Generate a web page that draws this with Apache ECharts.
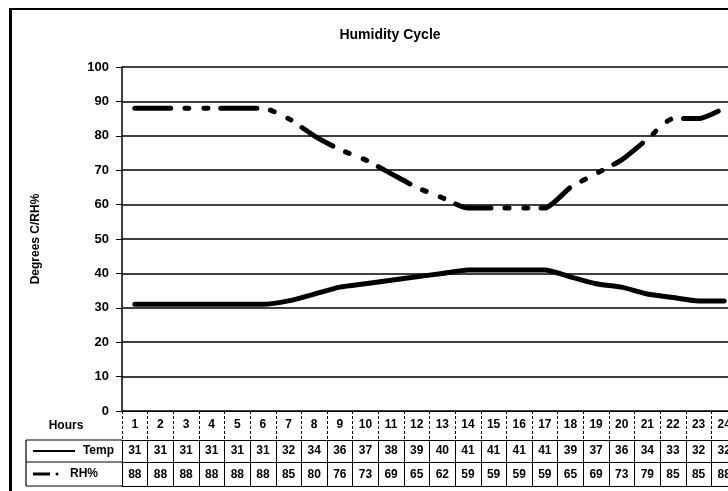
<!DOCTYPE html>
<html>
<head>
<meta charset="utf-8">
<style>
  html, body { margin: 0; padding: 0; background: #fff; }
  #chart { width: 728px; height: 491px; }
</style>
<script src="https://cdn.jsdelivr.net/npm/echarts@6/dist/echarts.min.js"></script>
</head>
<body>
<div id="chart"></div>
<script>
// Hourly readings over one day
const hours = ['1','2','3','4','5','6','7','8','9','10','11','12','13','14','15','16','17','18','19','20','21','22','23','24'];
const temp  = [31,31,31,31,31,31,32,34,36,37,38,39,40,41,41,41,41,39,37,36,34,33,32,32];
const rh    = [88,88,88,88,88,88,85,80,76,73,69,65,62,59,59,59,59,65,69,73,79,85,85,88];
const yTicks = { min: 0, max: 100, step: 10 };

const FONT = '"Liberation Sans", Arial, sans-serif';
const INK = '#000';

const chart = echarts.init(document.getElementById('chart'), null, { renderer: 'canvas' });

// One category axis per table row, stacked under the plot with offsets
function tableAxis(offset, tickLen, margin, values, showLabels, dashedTicks) {
  return {
    type: 'category',
    data: hours,
    position: 'bottom',
    offset: offset,
    boundaryGap: true,
    axisLine: { show: true, lineStyle: { color: INK, width: 1.2 } },
    axisTick: {
      show: tickLen > 0, length: tickLen, interval: 0,
      lineStyle: { color: INK, width: 1, type: dashedTicks ? [3, 2] : 'solid' }
    },
    axisLabel: {
      show: showLabels, interval: 0, margin: margin,
      color: INK, fontFamily: FONT, fontWeight: 'bold', fontSize: 12,
      formatter: (v, i) => values ? String(values[i]) : v
    },
    splitLine: { show: false }
  };
}

const option = {
  animation: false,
  backgroundColor: '#fff',
  title: {
    text: 'Humidity Cycle',
    left: 385, top: 23, textAlign: 'center',
    textStyle: { fontFamily: FONT, fontWeight: 'bold', fontSize: 14, color: INK }
  },
  grid: { left: 122, top: 67, width: 615, height: 344, containLabel: false, outerBoundsMode: 'none' },
  xAxis: [
    tableAxis(0, 29, 8, null, true, true),
    tableAxis(29, 22, 5, temp, true, false),
    tableAxis(51, 24, 7, rh, true, false),
    tableAxis(75, 0, 0, null, false, false)
  ],
  yAxis: {
    type: 'value',
    min: yTicks.min, max: yTicks.max, interval: yTicks.step,
    name: 'Degrees C/RH%',
    nameLocation: 'middle',
    nameRotate: 90,
    nameGap: 80,
    nameTextStyle: { fontFamily: FONT, fontWeight: 'bold', fontSize: 12, color: INK },
    axisLine: { show: true, lineStyle: { color: INK, width: 1.5 } },
    axisTick: { show: true, length: 6, lineStyle: { color: INK, width: 1 } },
    axisLabel: { margin: 13, color: INK, fontFamily: FONT, fontWeight: 'bold', fontSize: 13 },
    splitLine: { show: true, lineStyle: { color: INK, width: 1.5 } }
  },
  series: [
    {
      name: 'Temp', type: 'line', xAxisIndex: 0, data: temp,
      showSymbol: false, smooth: 0.2,
      lineStyle: { color: INK, width: 5, cap: 'round' }
    },
    {
      name: 'RH%', type: 'line', xAxisIndex: 0, data: rh,
      showSymbol: false, smooth: 0.2,
      lineStyle: { color: INK, width: 5, cap: 'round', type: [36, 14, 4, 15, 4, 13] }
    }
  ],
  graphic: [
    // outer frame
    { type: 'line', shape: { x1: 10.5, y1: 8, x2: 10.5, y2: 491 }, style: { stroke: INK, lineWidth: 3 } },
    { type: 'line', shape: { x1: 10, y1: 9, x2: 728, y2: 9 }, style: { stroke: INK, lineWidth: 2 } },
    // row header cells of the data table
    { type: 'line', shape: { x1: 26, y1: 440, x2: 122, y2: 440 }, style: { stroke: INK, lineWidth: 1.2 } },
    { type: 'line', shape: { x1: 26, y1: 462, x2: 122, y2: 462 }, style: { stroke: INK, lineWidth: 1.2 } },
    { type: 'line', shape: { x1: 26, y1: 486, x2: 122, y2: 486 }, style: { stroke: INK, lineWidth: 1.2 } },
    { type: 'line', shape: { x1: 26, y1: 440, x2: 26, y2: 486 }, style: { stroke: INK, lineWidth: 1.2 } },
    { type: 'text', x: 66, y: 426, style: { text: 'Hours', fill: INK, font: 'bold 12px ' + FONT, textAlign: 'center', textVerticalAlign: 'middle' } },
    // Temp key
    { type: 'line', shape: { x1: 33, y1: 451, x2: 75, y2: 451 }, style: { stroke: INK, lineWidth: 2 } },
    { type: 'text', x: 114, y: 451, style: { text: 'Temp', fill: INK, font: 'bold 12px ' + FONT, textAlign: 'right', textVerticalAlign: 'middle' } },
    // RH% key
    { type: 'line', shape: { x1: 33, y1: 474, x2: 50, y2: 474 }, style: { stroke: INK, lineWidth: 3 } },
    { type: 'circle', shape: { cx: 57, cy: 474, r: 1.5 }, style: { fill: INK } },
    { type: 'text', x: 98, y: 474, style: { text: 'RH%', fill: INK, font: 'bold 12px ' + FONT, textAlign: 'right', textVerticalAlign: 'middle' } }
  ]
};

chart.setOption(option);
</script>
</body>
</html>
